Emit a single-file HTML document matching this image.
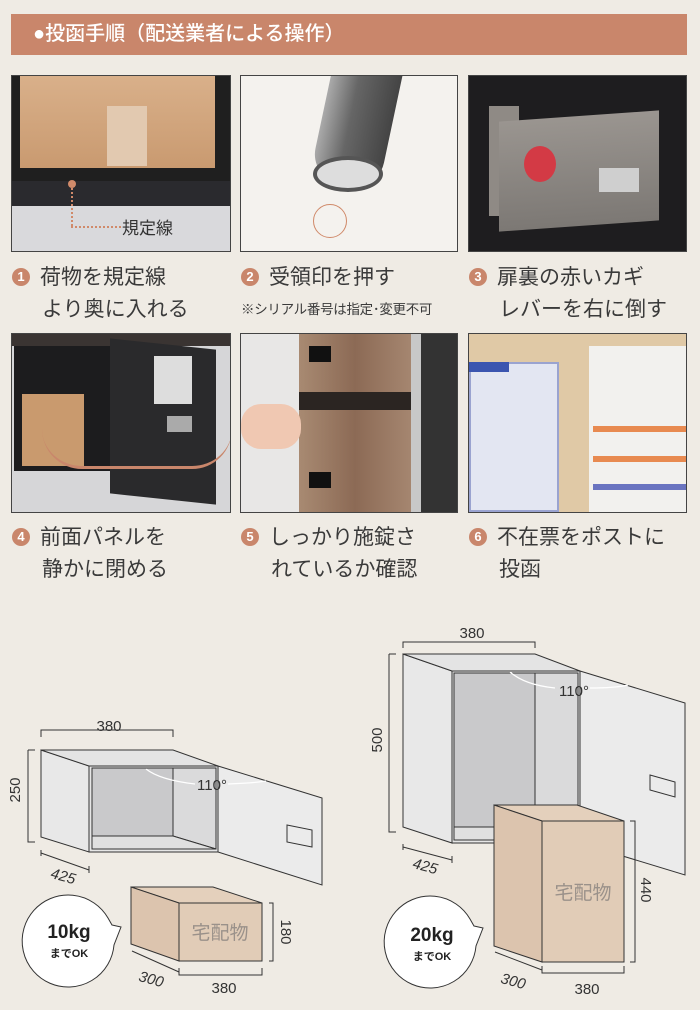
<!DOCTYPE html>
<html><head><meta charset="utf-8"><style>
*{margin:0;padding:0;box-sizing:border-box}
body{width:700px;height:1010px;background:#efebe4;position:relative;overflow:hidden;font-family:"Liberation Sans","Noto Sans CJK JP",sans-serif;color:#3a3a3a}
.a{position:absolute}
.hdr{left:11px;top:14px;width:676px;height:41px;background:#c9866b;color:#fff;font-size:20px;line-height:41px;padding-left:22px;letter-spacing:0px;font-weight:500}
.ph{position:absolute;overflow:hidden;border:1px solid #444}
.cap{position:absolute;font-size:21px;line-height:32px;white-space:nowrap;letter-spacing:0px}
.num{display:inline-block;width:18px;height:18px;border-radius:50%;background:#c9866b;color:#fff;font-size:13px;line-height:18px;text-align:center;font-weight:bold;vertical-align:3px;margin-right:10px}
</style></head><body>
<div class="a hdr">●投函手順（配送業者による操作）</div>

<div class="ph" style="left:11px;top:75px;width:220px;height:177px;background:#d9d9dc">
 <div class="a" style="left:0;top:0;width:220px;height:130px;background:#1f1f1f"></div>
 <div class="a" style="left:8px;top:0;width:195px;height:92px;background:linear-gradient(#d9b08a,#c99a70)"></div>
 <div class="a" style="left:95px;top:30px;width:40px;height:60px;background:#e2c9b0"></div>
 <div class="a" style="left:0;top:105px;width:220px;height:25px;background:#2a2a2e"></div>
 <div class="a" style="left:56px;top:104px;width:8px;height:8px;border-radius:50%;background:#d08a6a"></div>
 <div class="a" style="left:59px;top:112px;width:0;height:38px;border-left:2px dotted #d08a6a"></div>
 <div class="a" style="left:59px;top:150px;width:50px;height:0;border-top:2px dotted #d08a6a"></div>
 <div class="a" style="left:110px;top:138px;font-size:17px;color:#333">規定線</div>
</div>
<div class="ph" style="left:240px;top:75px;width:218px;height:177px;background:#f4f2ee">
 <div class="a" style="left:80px;top:-10px;width:70px;height:120px;background:linear-gradient(90deg,#aaa,#666 40%,#444);transform:rotate(12deg);border-radius:0 0 30px 30px"></div>
 <div class="a" style="left:72px;top:80px;width:70px;height:36px;border-radius:50%;border:4px solid #555;background:#ddd"></div>
 <div class="a" style="left:72px;top:128px;width:34px;height:34px;border-radius:50%;border:1.5px solid #d08a6a"></div>
</div>
<div class="ph" style="left:468px;top:75px;width:219px;height:177px;background:#1e1d1f">
 <div class="a" style="left:20px;top:30px;width:30px;height:110px;background:#8f8a85"></div>
 <div class="a" style="left:30px;top:40px;width:160px;height:110px;background:linear-gradient(#9a9590,#7c7874);transform:skewY(-4deg)"></div>
 <div class="a" style="left:55px;top:70px;width:32px;height:36px;border-radius:50%;background:#d33a45"></div>
 <div class="a" style="left:130px;top:92px;width:40px;height:24px;background:#cfcfcf"></div>
</div>

<div class="cap" style="left:12px;top:262px"><span class="num">1</span>荷物を規定線</div>
<div class="cap" style="left:42px;top:294px">より奥に入れる</div>
<div class="cap" style="left:241px;top:262px"><span class="num">2</span>受領印を押す</div>
<div class="a" style="left:241px;top:298px;font-size:13.5px;white-space:nowrap;letter-spacing:-0.3px">※シリアル番号は指定･変更不可</div>
<div class="cap" style="left:469px;top:262px"><span class="num">3</span>扉裏の赤いカギ</div>
<div class="cap" style="left:499px;top:294px">レバーを右に倒す</div>

<div class="ph" style="left:11px;top:333px;width:220px;height:180px;background:#d6d6d8">
 <div class="a" style="left:0;top:0;width:220px;height:12px;background:#3a3432"></div>
 <div class="a" style="left:2px;top:12px;width:96px;height:125px;background:#1c1c1e"></div>
 <div class="a" style="left:10px;top:60px;width:62px;height:72px;background:#c99a6e"></div>
 <div class="a" style="left:98px;top:10px;width:106px;height:155px;background:#2a2a2c;transform:skewY(6deg)"></div>
 <div class="a" style="left:142px;top:22px;width:38px;height:48px;background:#ddd"></div>
 <div class="a" style="left:155px;top:82px;width:25px;height:16px;background:#aaa"></div>
 <div class="a" style="left:30px;top:95px;width:190px;height:40px;border-bottom:3px solid #c9866b;border-radius:0 0 90px 90px"></div>
</div>
<div class="ph" style="left:240px;top:333px;width:218px;height:180px;background:#e8e7e6">
 <div class="a" style="left:58px;top:0;width:112px;height:180px;background:linear-gradient(90deg,#a88a72,#8c6a55,#a58670)"></div>
 <div class="a" style="left:58px;top:58px;width:112px;height:18px;background:#2b2522"></div>
 <div class="a" style="left:68px;top:12px;width:22px;height:16px;background:#111"></div>
 <div class="a" style="left:68px;top:138px;width:22px;height:16px;background:#111"></div>
 <div class="a" style="left:170px;top:0;width:10px;height:180px;background:#c8c8c8"></div>
 <div class="a" style="left:180px;top:0;width:38px;height:180px;background:#333"></div>
 <div class="a" style="left:0;top:70px;width:60px;height:45px;border-radius:20px;background:#f0c8b2"></div>
</div>
<div class="ph" style="left:468px;top:333px;width:219px;height:180px;background:#e0c9a6">
 <div class="a" style="left:0;top:28px;width:90px;height:150px;background:#e3e6f2;border:2px solid #9aa3d0"></div>
 <div class="a" style="left:0;top:28px;width:40px;height:10px;background:#3b55b0"></div>
 <div class="a" style="left:120px;top:12px;width:99px;height:168px;background:#f2f1ee"></div>
 <div class="a" style="left:124px;top:92px;width:95px;height:6px;background:#e88a50"></div>
 <div class="a" style="left:124px;top:122px;width:95px;height:6px;background:#e88a50"></div>
 <div class="a" style="left:124px;top:150px;width:95px;height:6px;background:#6a74c0"></div>
</div>

<div class="cap" style="left:12px;top:522px"><span class="num">4</span>前面パネルを</div>
<div class="cap" style="left:42px;top:554px">静かに閉める</div>
<div class="cap" style="left:241px;top:522px"><span class="num">5</span>しっかり施錠さ</div>
<div class="cap" style="left:271px;top:554px">れているか確認</div>
<div class="cap" style="left:469px;top:522px"><span class="num">6</span>不在票をポストに</div>
<div class="cap" style="left:499px;top:554px">投函</div>

<svg class="a" style="left:0;top:0" width="700" height="1010" viewBox="0 0 700 1010" font-family="Liberation Sans, Noto Sans CJK JP, sans-serif">
<g stroke="#333" stroke-width="1" fill="none">
 <polygon points="41,750 89,766 89,852 41,837" fill="#e8e8e8"/>
 <polygon points="41,750 173,750 218,766 89,766" fill="#e4e4e4"/>
 <rect x="89" y="766" width="129" height="86" fill="#e6e6e6"/>
 <rect x="92" y="768" width="124" height="81" fill="#c9c9cb"/>
 <polygon points="173,768 216,768 216,849 173,836" fill="#dadadb"/>
 <polygon points="92,836 173,836 216,849 92,849" fill="#e0e0e0"/>
 <line x1="173" y1="768" x2="173" y2="836"/>
 <polygon points="218,766 322,798 322,885 218,852" fill="#ebebeb"/>
 <polygon points="287,825 312,830 312,847 287,842"/>
 <path d="M41,737 V730 H173 V737 M28,750 H35 M28,750 V842 H35 M41,853 L89,870 M41,850 V856 M89,866 V873"/>
 <polygon points="131,887 213,887 262,903 179,903" fill="#e4d0bc"/>
 <polygon points="131,887 179,903 179,961 131,944" fill="#dcc4ae"/>
 <rect x="179" y="903" width="83" height="58" fill="#e1ccb7"/>
 <path d="M269,903 H273 V961 H269 M132,951 L179,972 M179,968 V975 H262 V968"/>
 <polygon points="403,654 452,671 452,843 403,827" fill="#e8e8e8"/>
 <polygon points="403,654 535,654 580,671 452,671" fill="#e4e4e4"/>
 <rect x="452" y="671" width="128" height="172" fill="#e6e6e6"/>
 <rect x="454" y="673" width="124" height="167" fill="#c9c9cb"/>
 <polygon points="535,673 578,673 578,840 535,827" fill="#dadadb"/>
 <polygon points="454,827 535,827 578,840 454,840" fill="#e0e0e0"/>
 <line x1="535" y1="673" x2="535" y2="827"/>
 <polygon points="580,671 685,703 685,875 580,843" fill="#ebebeb"/>
 <polygon points="650,775 675,782 675,797 650,790"/>
 <path d="M403,648 V642 H535 V648 M389,654 H396 M389,654 V832 H396 M403,847 L452,860 M403,844 V850 M452,856 V863"/>
 <polygon points="494,805 577,805 624,821 542,821" fill="#e4d0bc"/>
 <polygon points="494,805 542,821 542,962 494,946" fill="#dcc4ae"/>
 <rect x="542" y="821" width="82" height="141" fill="#e1ccb7"/>
 <path d="M630,821 H635 V962 H630 M495,952 L542,970 M542,966 V973 H624 V966"/>
</g>
<g stroke="#fff" stroke-width="1.2" fill="none">
 <path d="M146,769 Q160,780 195,784 M228,784 Q255,783 266,781"/>
 <path d="M510,672 Q525,685 555,688 M590,688 Q615,688 628,685"/>
</g>
<g font-size="15" fill="#333" text-anchor="middle">
 <text x="109" y="731">380</text>
 <text x="212" y="790">110°</text>
 <text x="574" y="696">110°</text>
 <text transform="translate(20,790) rotate(-90)">250</text>
 <text transform="translate(62,881) rotate(15)" font-style="italic">425</text>
 <text transform="translate(281,932) rotate(90)">180</text>
 <text transform="translate(150,984) rotate(15)" font-style="italic">300</text>
 <text x="224" y="993">380</text>
 <text x="472" y="638">380</text>
 <text transform="translate(382,740) rotate(-90)">500</text>
 <text transform="translate(424,871) rotate(15)" font-style="italic">425</text>
 <text transform="translate(641,890) rotate(90)">440</text>
 <text transform="translate(512,986) rotate(15)" font-style="italic">300</text>
 <text x="587" y="994">380</text>
</g>
<text x="220" y="939" font-size="19" fill="#9a918a" text-anchor="middle">宅配物</text>
<text x="583" y="899" font-size="19" fill="#9a918a" text-anchor="middle">宅配物</text>
<g fill="#fff" stroke="#333" stroke-width="1">
 <path d="M112,925 L121,927 L114,945 A46,46 0 1 1 108,918 Z"/>
 <path d="M474,926 L483,928 L476,946 A46,46 0 1 1 470,919 Z"/>
</g>
<g text-anchor="middle" fill="#222" font-weight="bold">
 <text x="69" y="938" font-size="19">10kg</text>
 <text x="69" y="957" font-size="11">までOK</text>
 <text x="432" y="941" font-size="19">20kg</text>
 <text x="432" y="960" font-size="11">までOK</text>
</g>
</svg>
</body></html>
